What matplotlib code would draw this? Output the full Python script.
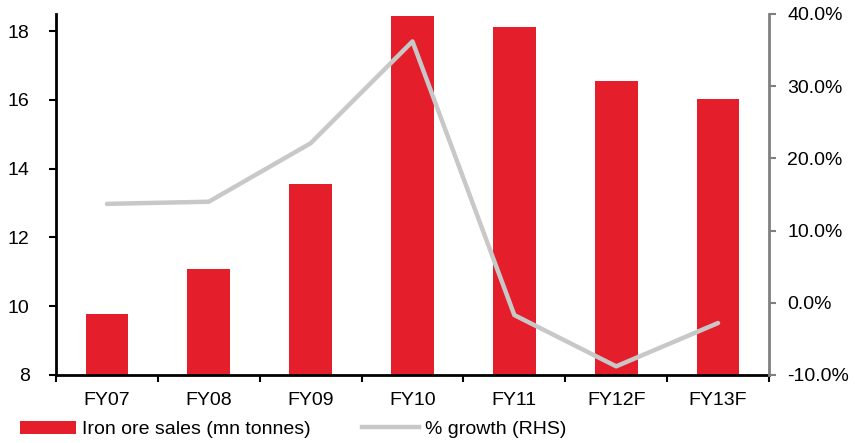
import matplotlib.pyplot as plt
from matplotlib.patches import Patch
from matplotlib.lines import Line2D
from matplotlib.ticker import FuncFormatter

plt.rcParams['font.family'] = ['Liberation Sans', 'DejaVu Sans']

anios = ['FY07', 'FY08', 'FY09', 'FY10', 'FY11', 'FY12F', 'FY13F']
ventas = [9.76, 11.09, 13.56, 18.44, 18.12, 16.54, 16.02]
crecimiento = [13.7, 14.0, 22.1, 36.2, -1.7, -8.8, -2.8]

rojo = '#E51E2B'
gris = '#C8C8C8'
tam = 14

fig = plt.figure(figsize=(8.59, 4.43), dpi=100)
ax = fig.add_axes([0.0652, 0.1535, 0.83, 0.8149])

x = range(len(anios))
ax.bar(x, ventas, width=0.42, color=rojo, zorder=2)
ax.set_ylim(8, 18.5)
ax.set_xlim(-0.5, len(anios) - 0.5)
ax.set_yticks([8, 10, 12, 14, 16, 18])
ax.set_xticks(list(x))
ax.set_xticklabels(anios)
ax.set_xticks([i - 0.5 for i in range(len(anios) + 1)], minor=True)
ax.tick_params(axis='x', which='major', length=0, pad=12, labelsize=tam)
ax.tick_params(axis='x', which='minor', length=5, width=1.5, direction='out')
ax.tick_params(axis='y', length=5, width=1.5, labelsize=tam, pad=14)
for lado in ['top', 'right']:
    ax.spines[lado].set_visible(False)
ax.spines['left'].set_linewidth(2)
ax.spines['bottom'].set_linewidth(2)

ax2 = ax.twinx()
ax2.plot(x, crecimiento, color=gris, lw=3.2, solid_capstyle='round', zorder=3)
ax2.set_ylim(-10, 40)
ax2.set_yticks([-10, 0, 10, 20, 30, 40])
ax2.yaxis.set_major_formatter(FuncFormatter(lambda v, p: f'{v:.1f}%'))
ax2.tick_params(axis='y', length=5, width=1.5, color='#808080', labelsize=tam, pad=8)
for lado in ['top', 'left', 'bottom']:
    ax2.spines[lado].set_visible(False)
ax2.spines['right'].set_color('#808080')
ax2.spines['right'].set_linewidth(2)

manejadores = [Patch(facecolor=rojo, edgecolor='none', label='Iron ore sales (mn tonnes)'),
               Line2D([0], [0], color=gris, lw=3.2, label='% growth (RHS)')]
fig.legend(handles=manejadores, loc='lower left', bbox_to_anchor=(0.003, -0.028), ncol=2,
           frameon=False, fontsize=tam, handlelength=2.9, handleheight=0.65,
           handletextpad=0.3, columnspacing=2.65)

fig.savefig('out.png', dpi=100)
